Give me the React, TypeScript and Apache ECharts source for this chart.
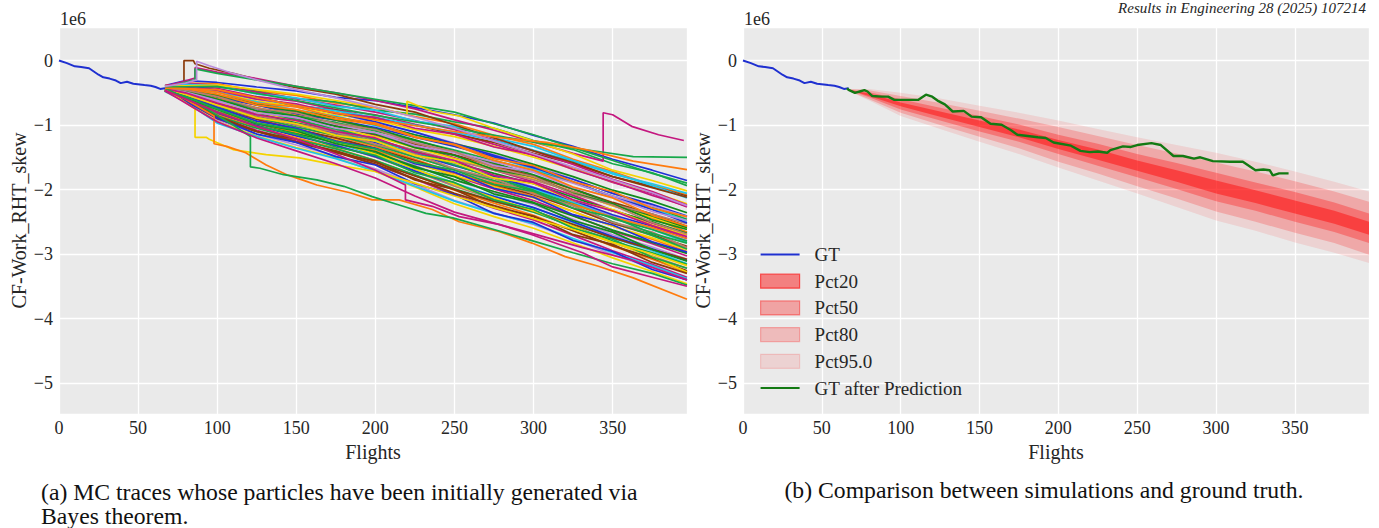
import { useEffect, useRef } from "react";
import * as echarts from "echarts";

// ---------- data (values in units of 1e6) ----------
const gtFlights = [0, 5, 10, 14, 19, 22, 25, 28, 32, 36, 39, 43, 47, 54, 58, 61, 64, 67];
const gtValues = [0, -0.04, -0.09, -0.1, -0.12, -0.17, -0.22, -0.26, -0.28, -0.31, -0.35, -0.33, -0.36, -0.38, -0.39, -0.41, -0.44, -0.43];

const mcKnots = [67, 80, 100, 125, 150, 175, 200, 225, 250, 275, 300, 325, 350, 375, 397];
const mcTraces: number[][] = [
  [-0.39, -0.31, -0.34, -0.41, -0.47, -0.57, -0.62, -0.73, -0.84, -0.97, -1.16, -1.33, -1.53, -1.70, -1.86],
  [-0.39, -0.35, -0.36, -0.47, -0.54, -0.66, -0.73, -0.87, -0.98, -1.16, -1.30, -1.53, -1.72, -1.93, -2.08],
  [-0.40, -0.35, -0.41, -0.48, -0.59, -0.64, -0.77, -0.83, -0.95, -1.05, -1.24, -1.38, -1.60, -1.74, -1.94],
  [-0.40, -0.38, -0.43, -0.56, -0.63, -0.76, -0.84, -0.99, -1.12, -1.30, -1.47, -1.67, -1.89, -2.06, -2.27],
  [-0.41, -0.40, -0.48, -0.57, -0.70, -0.77, -0.90, -1.00, -1.14, -1.27, -1.44, -1.60, -1.80, -1.95, -2.10],
  [-0.41, -0.40, -0.49, -0.60, -0.72, -0.82, -0.96, -1.11, -1.28, -1.46, -1.62, -1.84, -2.06, -2.25, -2.43],
  [-0.40, -0.42, -0.49, -0.63, -0.71, -0.84, -0.92, -1.07, -1.18, -1.33, -1.50, -1.68, -1.88, -2.04, -2.22],
  [-0.42, -0.41, -0.53, -0.64, -0.77, -0.86, -1.01, -1.15, -1.32, -1.50, -1.68, -1.89, -2.12, -2.30, -2.49],
  [-0.42, -0.43, -0.54, -0.67, -0.78, -0.88, -0.99, -1.15, -1.29, -1.43, -1.61, -1.80, -2.01, -2.18, -2.36],
  [-0.42, -0.44, -0.55, -0.69, -0.81, -0.93, -1.08, -1.25, -1.42, -1.61, -1.79, -2.00, -2.21, -2.40, -2.58],
  [-0.43, -0.45, -0.57, -0.69, -0.83, -0.92, -1.04, -1.19, -1.33, -1.49, -1.66, -1.84, -2.06, -2.23, -2.41],
  [-0.42, -0.46, -0.59, -0.73, -0.85, -0.98, -1.12, -1.29, -1.47, -1.64, -1.82, -2.03, -2.25, -2.44, -2.66],
  [-0.43, -0.46, -0.60, -0.74, -0.86, -0.96, -1.09, -1.24, -1.39, -1.55, -1.71, -1.89, -2.10, -2.27, -2.46],
  [-0.43, -0.47, -0.62, -0.76, -0.89, -1.01, -1.16, -1.33, -1.51, -1.70, -1.88, -2.09, -2.32, -2.52, -2.70],
  [-0.44, -0.48, -0.63, -0.77, -0.90, -1.01, -1.14, -1.30, -1.46, -1.63, -1.79, -1.99, -2.20, -2.38, -2.57],
  [-0.43, -0.49, -0.64, -0.80, -0.93, -1.07, -1.22, -1.40, -1.60, -1.78, -1.96, -2.18, -2.41, -2.60, -2.79],
  [-0.44, -0.49, -0.66, -0.80, -0.94, -1.05, -1.18, -1.35, -1.52, -1.68, -1.84, -2.04, -2.25, -2.43, -2.61],
  [-0.44, -0.50, -0.68, -0.83, -0.97, -1.10, -1.25, -1.43, -1.62, -1.81, -1.99, -2.20, -2.43, -2.62, -2.82],
  [-0.44, -0.50, -0.67, -0.82, -0.97, -1.09, -1.23, -1.40, -1.58, -1.75, -1.91, -2.12, -2.33, -2.50, -2.68],
  [-0.45, -0.51, -0.70, -0.86, -1.00, -1.14, -1.30, -1.49, -1.69, -1.88, -2.06, -2.29, -2.52, -2.71, -2.90],
  [-0.44, -0.51, -0.70, -0.85, -1.00, -1.12, -1.27, -1.45, -1.63, -1.80, -1.97, -2.17, -2.39, -2.57, -2.76],
  [-0.45, -0.52, -0.71, -0.88, -1.03, -1.17, -1.33, -1.53, -1.74, -1.94, -2.11, -2.34, -2.57, -2.77, -2.96],
  [-0.45, -0.52, -0.72, -0.89, -1.03, -1.16, -1.31, -1.50, -1.68, -1.86, -2.02, -2.22, -2.45, -2.62, -2.80],
  [-0.45, -0.53, -0.74, -0.91, -1.06, -1.21, -1.37, -1.58, -1.79, -1.99, -2.17, -2.40, -2.64, -2.84, -3.03],
  [-0.46, -0.54, -0.75, -0.92, -1.07, -1.20, -1.36, -1.55, -1.74, -1.92, -2.08, -2.29, -2.52, -2.70, -2.88],
  [-0.45, -0.55, -0.77, -0.94, -1.10, -1.25, -1.42, -1.63, -1.85, -2.05, -2.23, -2.46, -2.70, -2.89, -3.08],
  [-0.46, -0.55, -0.78, -0.95, -1.10, -1.23, -1.40, -1.59, -1.78, -1.96, -2.13, -2.34, -2.57, -2.75, -2.93],
  [-0.46, -0.56, -0.79, -0.97, -1.13, -1.28, -1.46, -1.68, -1.90, -2.10, -2.28, -2.51, -2.75, -2.95, -3.15],
  [-0.46, -0.56, -0.80, -0.98, -1.13, -1.27, -1.44, -1.64, -1.85, -2.03, -2.20, -2.41, -2.63, -2.82, -2.99],
  [-0.46, -0.57, -0.82, -1.00, -1.16, -1.31, -1.50, -1.72, -1.95, -2.15, -2.34, -2.58, -2.82, -3.03, -3.22],
  [-0.47, -0.57, -0.83, -1.01, -1.17, -1.32, -1.49, -1.71, -1.92, -2.11, -2.28, -2.50, -2.73, -2.92, -3.10],
  [-0.46, -0.58, -0.84, -1.04, -1.20, -1.36, -1.55, -1.78, -2.01, -2.21, -2.40, -2.64, -2.88, -3.08, -3.28],
  [-0.47, -0.59, -0.86, -1.05, -1.22, -1.37, -1.55, -1.77, -1.99, -2.18, -2.35, -2.57, -2.80, -2.98, -3.16],
  [-0.47, -0.60, -0.88, -1.08, -1.25, -1.41, -1.61, -1.84, -2.08, -2.29, -2.47, -2.71, -2.95, -3.16, -3.36],
  [-0.47, -0.61, -0.89, -1.10, -1.27, -1.42, -1.61, -1.83, -2.06, -2.25, -2.42, -2.64, -2.87, -3.06, -3.26],
  [-0.47, -0.62, -0.92, -1.14, -1.31, -1.48, -1.68, -1.92, -2.17, -2.36, -2.54, -2.77, -3.01, -3.21, -3.40],
  [-0.48, -0.64, -0.95, -1.17, -1.35, -1.51, -1.72, -1.96, -2.22, -2.42, -2.60, -2.83, -3.06, -3.27, -3.46],
  [-0.48, -0.64, -0.97, -1.18, -1.36, -1.52, -1.71, -1.95, -2.18, -2.37, -2.53, -2.76, -2.98, -3.18, -3.38],
  [-0.42, -0.42, -0.54, -0.68, -0.80, -0.92, -1.06, -1.23, -1.41, -1.59, -1.77, -1.99, -2.22, -2.41, -2.59],
  [-0.44, -0.51, -0.70, -0.85, -0.98, -1.09, -1.23, -1.39, -1.55, -1.70, -1.85, -2.03, -2.23, -2.38, -2.53],
  [-0.40, -0.38, -0.46, -0.58, -0.70, -0.81, -0.95, -1.11, -1.29, -1.47, -1.65, -1.88, -2.11, -2.31, -2.52],
  [-0.46, -0.57, -0.80, -0.97, -1.11, -1.24, -1.40, -1.57, -1.75, -1.90, -2.05, -2.23, -2.43, -2.59, -2.76],
  [-0.43, -0.46, -0.61, -0.77, -0.92, -1.06, -1.22, -1.41, -1.62, -1.82, -2.01, -2.25, -2.50, -2.71, -2.92],
  [-0.39, -0.35, -0.39, -0.49, -0.59, -0.69, -0.80, -0.93, -1.07, -1.23, -1.40, -1.61, -1.84, -2.03, -2.24],
  [-0.47, -0.62, -0.90, -1.10, -1.26, -1.40, -1.58, -1.79, -2.00, -2.18, -2.33, -2.54, -2.75, -2.93, -3.08],
  [-0.43, -0.48, -0.63, -0.77, -0.89, -0.99, -1.12, -1.27, -1.42, -1.57, -1.72, -1.90, -2.10, -2.26, -2.42],
  [-0.45, -0.54, -0.75, -0.94, -1.10, -1.26, -1.45, -1.68, -1.92, -2.13, -2.33, -2.57, -2.82, -3.04, -3.28],
  [-0.41, -0.40, -0.49, -0.59, -0.69, -0.78, -0.88, -1.00, -1.11, -1.24, -1.39, -1.56, -1.76, -1.91, -2.06],
  [-0.43, -0.47, -0.60, -0.78, -0.86, -1.02, -1.14, -1.35, -1.47, -1.69, -1.80, -2.06, -2.22, -2.47, -2.62],
  [-0.44, -0.52, -0.69, -0.83, -1.00, -1.11, -1.30, -1.45, -1.68, -1.83, -2.07, -2.25, -2.51, -2.66, -2.90],
  [-0.45, -0.55, -0.73, -0.94, -1.05, -1.25, -1.36, -1.60, -1.73, -1.98, -2.12, -2.39, -2.55, -2.81, -2.97],
  [-0.42, -0.44, -0.52, -0.69, -0.76, -0.91, -0.99, -1.19, -1.30, -1.52, -1.63, -1.88, -2.03, -2.29, -2.42],
  [-0.46, -0.58, -0.80, -1.02, -1.14, -1.34, -1.47, -1.74, -1.89, -2.16, -2.31, -2.60, -2.77, -3.05, -3.22],
  [-0.41, -0.41, -0.46, -0.60, -0.67, -0.82, -0.88, -1.05, -1.14, -1.34, -1.46, -1.69, -1.88, -2.09, -2.26],
  [-0.47, -0.62, -0.86, -1.10, -1.22, -1.43, -1.56, -1.85, -2.00, -2.28, -2.41, -2.70, -2.85, -3.13, -3.30],
  [-0.43, -0.49, -0.62, -0.81, -0.88, -1.05, -1.12, -1.32, -1.43, -1.63, -1.73, -1.97, -2.12, -2.34, -2.48],
  [-0.44, -0.53, -0.69, -0.89, -0.98, -1.16, -1.25, -1.47, -1.58, -1.82, -1.91, -2.17, -2.31, -2.55, -2.70],
  [-0.40, -0.37, -0.39, -0.52, -0.58, -0.71, -0.77, -0.94, -1.02, -1.20, -1.33, -1.55, -1.74, -1.94, -2.13],
  [-0.45, -0.57, -0.76, -0.98, -1.09, -1.29, -1.41, -1.66, -1.80, -2.07, -2.21, -2.48, -2.66, -2.93, -3.11],
  [-0.42, -0.46, -0.56, -0.74, -0.81, -0.98, -1.07, -1.28, -1.41, -1.66, -1.80, -2.07, -2.24, -2.51, -2.69],
  [-0.47, -0.63, -0.89, -1.14, -1.27, -1.49, -1.62, -1.91, -2.08, -2.37, -2.51, -2.79, -2.96, -3.24, -3.40],
  [-0.41, -0.43, -0.49, -0.66, -0.72, -0.88, -0.97, -1.18, -1.31, -1.55, -1.70, -1.96, -2.13, -2.40, -2.57],
  [-0.46, -0.56, -0.75, -0.97, -1.07, -1.26, -1.37, -1.58, -1.70, -1.92, -2.03, -2.29, -2.43, -2.68, -2.83],
  [-0.44, -0.50, -0.66, -0.84, -0.93, -1.10, -1.20, -1.42, -1.55, -1.78, -1.89, -2.16, -2.33, -2.56, -2.73],
];

// traces with jumps, as [flight, value] pairs
const jumpTraces: [number, number][][] = [
  [[67, -0.42], [75, -0.36], [79, -0.33], [79, 0.0], [85, 0.0], [86, -0.05], [95, -0.12], [110, -0.2], [130, -0.32], [150, -0.42], [175, -0.52], [200, -0.68], [225, -0.8], [250, -1.0], [275, -1.2], [300, -1.4], [325, -1.58], [350, -1.8], [375, -1.97], [397, -2.12]],
  [[67, -0.4], [78, -0.33], [86, -0.27], [86, -0.11], [100, -0.18], [125, -0.28], [150, -0.4], [175, -0.5], [200, -0.62], [225, -0.75], [250, -0.92], [275, -1.08], [300, -1.26], [325, -1.44], [344, -1.56], [344, -0.81], [350, -0.84], [362, -1.02], [379, -1.15], [395, -1.24]],
  [[67, -0.42], [78, -0.35], [86, -0.3], [86, -0.13], [100, -0.2], [125, -0.3], [150, -0.4], [175, -0.5], [200, -0.6], [225, -0.7], [250, -0.8], [275, -0.98], [300, -1.15], [325, -1.35], [350, -1.55], [375, -1.75], [397, -1.9]],
  [[67, -0.44], [78, -0.62], [86, -0.75], [86, -1.19], [93, -1.19], [95, -1.22], [110, -1.38], [131, -1.46], [152, -1.51], [173, -1.61], [200, -1.72], [225, -1.9], [250, -2.1], [275, -2.28], [300, -2.45], [325, -2.62], [350, -2.82], [375, -3.0], [397, -3.18]],
  [[67, -0.45], [80, -0.6], [98, -0.86], [98, -1.29], [106, -1.33], [118, -1.43], [131, -1.62], [144, -1.77], [156, -1.87], [163, -1.93], [184, -2.05], [198, -2.16], [215, -2.16], [236, -2.31], [253, -2.5], [278, -2.65], [299, -2.83], [320, -3.04], [341, -3.19], [363, -3.37], [397, -3.7]],
  [[67, -0.43], [90, -0.7], [110, -1.0], [121, -1.18], [121, -1.65], [127, -1.67], [142, -1.77], [163, -1.85], [180, -1.95], [198, -2.11], [215, -2.24], [232, -2.37], [249, -2.44], [275, -2.62], [300, -2.8], [325, -2.98], [350, -3.15], [375, -3.3], [397, -3.48]],
  [[67, -0.4], [100, -0.38], [125, -0.45], [150, -0.52], [175, -0.62], [200, -0.72], [220, -0.84], [220, -0.63], [236, -0.79], [253, -0.86], [275, -1.05], [300, -1.25], [325, -1.45], [350, -1.7], [375, -1.86], [397, -2.02]],
  [[67, -0.46], [100, -0.8], [125, -1.02], [150, -1.22], [175, -1.45], [200, -1.7], [219, -1.93], [219, -2.16], [236, -2.26], [253, -2.42], [278, -2.54], [299, -2.68], [331, -2.9], [363, -3.1], [397, -3.4]],
  [[67, -0.41], [100, -0.4], [150, -0.62], [200, -0.85], [250, -1.05], [280, -1.18], [308, -1.3], [341, -1.41], [363, -1.49], [397, -1.5]],
  [[67, -0.43], [100, -0.45], [150, -0.7], [200, -0.92], [250, -1.1], [280, -1.2], [308, -1.27], [333, -1.38], [363, -1.56], [397, -1.69]],
  [[67, -0.4], [80, -0.35], [87, -0.3], [87, -0.01], [95, -0.08], [110, -0.2], [130, -0.33], [150, -0.45], [175, -0.58], [200, -0.72], [225, -0.88], [250, -1.05], [275, -1.25], [300, -1.45], [325, -1.65], [350, -1.85], [375, -2.05], [397, -2.25]],
  [[67, -0.47], [100, -0.95], [125, -1.2], [150, -1.4], [175, -1.6], [200, -1.82], [225, -2.1], [250, -2.35], [278, -2.54], [299, -2.7], [331, -2.98], [350, -3.2], [375, -3.36], [397, -3.5]],
];

const bandFlights = [66, 80, 100, 125, 150, 175, 200, 225, 250, 275, 300, 325, 350, 375, 397];
const pct95Upper = [-0.44, -0.44, -0.5, -0.59, -0.7, -0.81, -0.93, -1.06, -1.19, -1.31, -1.43, -1.57, -1.72, -1.88, -2.03];
const pct95Lower = [-0.46, -0.62, -0.86, -1.06, -1.26, -1.45, -1.66, -1.86, -2.06, -2.27, -2.48, -2.64, -2.82, -2.98, -3.14];
const pct80Upper = [-0.44, -0.46, -0.55, -0.66, -0.78, -0.9, -1.03, -1.17, -1.31, -1.44, -1.58, -1.72, -1.87, -2.03, -2.19];
const pct80Lower = [-0.46, -0.6, -0.81, -1.0, -1.18, -1.36, -1.57, -1.75, -1.95, -2.14, -2.34, -2.5, -2.67, -2.83, -3.01];
const pct50Upper = [-0.45, -0.49, -0.6, -0.73, -0.86, -0.99, -1.15, -1.29, -1.45, -1.59, -1.74, -1.89, -2.04, -2.2, -2.37];
const pct50Lower = [-0.45, -0.57, -0.76, -0.93, -1.1, -1.26, -1.45, -1.63, -1.81, -1.99, -2.18, -2.33, -2.5, -2.66, -2.83];
const pct20Upper = [-0.45, -0.51, -0.65, -0.79, -0.93, -1.07, -1.23, -1.38, -1.55, -1.7, -1.86, -2.01, -2.17, -2.33, -2.5];
const pct20Lower = [-0.45, -0.55, -0.71, -0.87, -1.03, -1.19, -1.37, -1.54, -1.71, -1.88, -2.06, -2.21, -2.37, -2.53, -2.7];

const gtAfterFlights = [66, 67, 71, 74, 77, 79, 82, 88, 92, 96, 103, 111, 116, 120, 124, 128, 133, 140, 145, 151, 157, 164, 170, 174, 187, 192, 197, 208, 214, 220, 225, 231, 233, 241, 246, 250, 259, 265, 273, 279, 286, 290, 298, 309, 317, 325, 330, 334, 336, 340, 346];
const gtAfterValues = [-0.43, -0.455, -0.5, -0.48, -0.46, -0.48, -0.55, -0.56, -0.56, -0.61, -0.61, -0.61, -0.53, -0.56, -0.63, -0.68, -0.79, -0.78, -0.87, -0.88, -0.98, -0.995, -1.08, -1.15, -1.19, -1.2, -1.27, -1.32, -1.4, -1.42, -1.41, -1.43, -1.39, -1.33, -1.34, -1.31, -1.28, -1.31, -1.48, -1.48, -1.52, -1.5, -1.56, -1.57, -1.57, -1.7, -1.69, -1.7, -1.78, -1.75, -1.75];

// ---------- styles ----------
const SERIF = "Liberation Serif";
const TXT = "#262626";
const traceColors = ["#1f30d6", "#ff7b0d", "#17a84a", "#c4177f", "#8b3a0b", "#b98bd9", "#f5d300", "#1ec5ea", "#128b1c", "#b97e6c"];
const jumpColors = ["#8b3a0b", "#c4177f", "#17a84a", "#f5d300", "#ff7b0d", "#17a84a", "#f5d300", "#c4177f", "#17a84a", "#ff7b0d", "#b98bd9", "#c4177f"];
const GT_BLUE = "#1f30d0";
const GT_GREEN = "#137a13";
const LINE_ICON = "path://M0,0L40,0L40,2.2L0,2.2Z";

const bands = [
  { name: "Pct95.0", upper: pct95Upper, lower: pct95Lower, fill: "rgba(255,0,0,0.10)", icon: "rgba(255,0,0,0.10)", border: "rgba(255,0,0,0.14)" },
  { name: "Pct80", upper: pct80Upper, lower: pct80Lower, fill: "rgba(255,0,0,0.20)", icon: "rgba(255,0,0,0.20)", border: "rgba(255,0,0,0.26)" },
  { name: "Pct50", upper: pct50Upper, lower: pct50Lower, fill: "rgba(255,0,0,0.30)", icon: "rgba(255,0,0,0.30)", border: "rgba(255,0,0,0.40)" },
  { name: "Pct20", upper: pct20Upper, lower: pct20Lower, fill: "rgba(255,0,0,0.45)", icon: "rgba(255,0,0,0.45)", border: "rgba(255,0,0,0.6)" },
];

const fmtY = (v: number) => (Math.abs(v) < 1e-9 ? "0" : v < 0 ? "\u2212" + Math.abs(v) : String(v));

function makeXAxis(gridIndex: number) {
  return {
    type: "value",
    gridIndex,
    min: 0,
    max: 397,
    interval: 50,
    axisLine: { show: false },
    axisTick: { show: false },
    splitLine: { show: true, lineStyle: { color: "#ffffff", width: 1.3 } },
    axisLabel: { showMaxLabel: false, margin: 5, fontFamily: SERIF, fontSize: 18, color: TXT },
    name: "Flights",
    nameLocation: "middle",
    nameGap: 26,
    nameTextStyle: { fontFamily: SERIF, fontSize: 20, color: TXT },
  };
}

function makeYAxis(gridIndex: number) {
  return {
    type: "value",
    gridIndex,
    min: -5.48,
    max: 0.52,
    splitNumber: 6,
    axisLine: { show: false },
    axisTick: { show: false },
    splitLine: { show: true, lineStyle: { color: "#ffffff", width: 1.3 } },
    axisLabel: { showMinLabel: false, showMaxLabel: false, margin: 6, fontFamily: SERIF, fontSize: 18, color: TXT, formatter: fmtY },
    name: "CF-Work_RHT_skew",
    nameLocation: "middle",
    nameGap: 30,
    nameTextStyle: { fontFamily: SERIF, fontSize: 20, color: TXT },
  };
}

function txt(text: string, x: number, y: number, size: number, align: string, extra: any = {}) {
  return {
    type: "text",
    x,
    y,
    style: { text, fontFamily: SERIF, fontSize: size, fill: TXT, align, verticalAlign: "middle", ...extra },
  };
}

export default function App() {
  const ref = useRef<HTMLDivElement>(null);

  useEffect(() => {
    if (!ref.current) return;
    const chart = echarts.init(ref.current, undefined, { renderer: "svg" });
    const gtData = gtFlights.map((f, i) => [f, gtValues[i]]);

    const series: any[] = [];
    mcTraces.forEach((tr, k) => {
      series.push({
        type: "line",
        name: "MC " + (k + 1),
        xAxisIndex: 0,
        yAxisIndex: 0,
        data: mcKnots.map((f, i) => [f, tr[i]]),
        symbol: "none",
        lineStyle: { width: 1.7, color: traceColors[k % traceColors.length] },
        itemStyle: { color: traceColors[k % traceColors.length] },
        silent: true,
        z: 2,
      });
    });
    jumpTraces.forEach((tr, k) => {
      series.push({
        type: "line",
        name: "MC jump " + (k + 1),
        xAxisIndex: 0,
        yAxisIndex: 0,
        data: tr,
        symbol: "none",
        lineStyle: { width: 1.7, color: jumpColors[k] },
        itemStyle: { color: jumpColors[k] },
        silent: true,
        z: 3,
      });
    });
    series.push({
      type: "line",
      name: "GT (a)",
      xAxisIndex: 0,
      yAxisIndex: 0,
      data: gtData,
      symbol: "none",
      lineStyle: { width: 2, color: GT_BLUE },
      itemStyle: { color: GT_BLUE },
      silent: true,
      z: 4,
    });

    bands.forEach((b, bi) => {
      series.push({
        type: "custom",
        name: b.name,
        xAxisIndex: 1,
        yAxisIndex: 1,
        silent: true,
        z: 2 + bi * 0.01,
        itemStyle: { color: b.icon },
        data: bandFlights.map((f, i) => [f, b.lower[i], b.upper[i]]),
        encode: { x: 0, y: [1, 2] },
        renderItem: (params: any, api: any) => {
          if (params.dataIndex !== 0) return null;
          const pts: number[][] = [];
          for (let i = 0; i < bandFlights.length; i++) pts.push(api.coord([bandFlights[i], b.upper[i]]));
          for (let i = bandFlights.length - 1; i >= 0; i--) pts.push(api.coord([bandFlights[i], b.lower[i]]));
          return { type: "polygon", shape: { points: pts }, style: { fill: b.fill } };
        },
      });
    });
    series.push({
      type: "line",
      name: "GT",
      xAxisIndex: 1,
      yAxisIndex: 1,
      data: gtData,
      symbol: "none",
      lineStyle: { width: 2, color: GT_BLUE },
      itemStyle: { color: GT_BLUE },
      silent: true,
      z: 5,
    });
    series.push({
      type: "line",
      name: "GT after Prediction",
      xAxisIndex: 1,
      yAxisIndex: 1,
      data: gtAfterFlights.map((f, i) => [f, gtAfterValues[i]]),
      symbol: "none",
      lineStyle: { width: 2.4, color: GT_GREEN },
      itemStyle: { color: GT_GREEN },
      silent: true,
      z: 5,
    });

    const bandByName: Record<string, any> = {};
    bands.forEach((b) => (bandByName[b.name] = b));
    const lineColor: Record<string, string> = { GT: GT_BLUE, "GT after Prediction": GT_GREEN };
    const legendNames = ["GT", "Pct20", "Pct50", "Pct80", "Pct95.0", "GT after Prediction"];

    chart.setOption({
      animation: false,
      backgroundColor: "#ffffff",
      grid: [
        { left: 59, top: 27, width: 628, height: 387, show: true, backgroundColor: "#eaeaea", borderWidth: 0 },
        { left: 743, top: 27, width: 626, height: 387, show: true, backgroundColor: "#eaeaea", borderWidth: 0 },
      ],
      xAxis: [makeXAxis(0), makeXAxis(1)],
      yAxis: [makeYAxis(0), makeYAxis(1)],
      legend: {
        orient: "vertical",
        left: 760,
        top: 245,
        padding: 0,
        itemWidth: 39,
        itemHeight: 14,
        itemGap: 7.7,
        selectedMode: false,
        textStyle: { fontFamily: SERIF, fontSize: 19, color: TXT, lineHeight: 19, padding: [0, 0, 0, 10] },
        data: legendNames.map((n) =>
          bandByName[n]
            ? { name: n, icon: "rect", itemStyle: { color: bandByName[n].icon, borderColor: bandByName[n].border, borderWidth: 1.2 } }
            : { name: n, icon: LINE_ICON, itemStyle: { color: lineColor[n], borderWidth: 0 } }
        ),
      },
      graphic: [
        txt("1e6", 60, 19, 18, "left"),
        txt("1e6", 744, 19, 18, "left"),
        txt("Results in Engineering 28 (2025) 107214", 1366, 8, 15, "right", { fontStyle: "italic" }),
        txt("(a) MC traces whose particles have been initially generated via", 41, 492, 23.7, "left", { fill: "#111" }),
        txt("Bayes theorem.", 41, 516, 23.7, "left", { fill: "#111" }),
        txt("(b) Comparison between simulations and ground truth.", 1044, 490, 23.7, "center", { fill: "#111" }),
      ],
      series,
    });

    return () => chart.dispose();
  }, []);

  return (
    <div
      ref={ref}
      style={{ position: "absolute", left: 0, top: 0, width: 1379, height: 528, background: "#fff" }}
    />
  );
}
